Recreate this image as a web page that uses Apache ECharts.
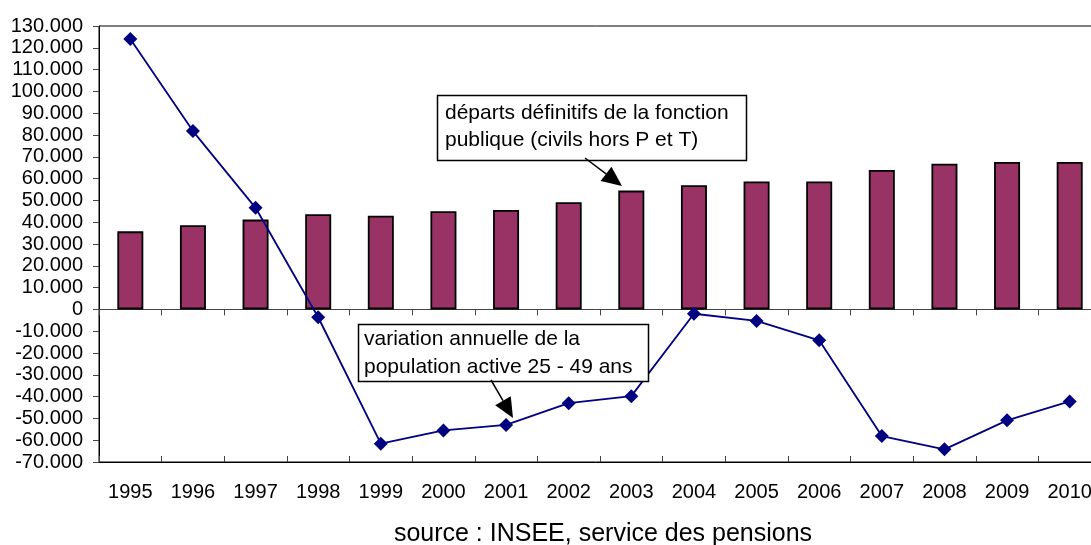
<!DOCTYPE html>
<html>
<head>
<meta charset="utf-8">
<script src="https://cdn.jsdelivr.net/npm/echarts@6/dist/echarts.min.js"></script>
<style>
  html, body { margin: 0; padding: 0; background: #fff; }
  #chart { width: 1091px; height: 545px; }
</style>
</head>
<body>
<div id="chart"></div>
<script>
// years on the category axis
var years = ['1995', '1996', '1997', '1998', '1999', '2000', '2001', '2002',
             '2003', '2004', '2005', '2006', '2007', '2008', '2009', '2010'];

// départs définitifs de la fonction publique (bars)
var departs = [35800, 38600, 41200, 43700, 43000, 45000, 45600, 49200,
               54500, 57000, 58700, 58700, 64000, 66800, 67600, 67600];

// variation annuelle de la population active 25 - 49 ans (line)
var variation = [124000, 81800, 46600, -3600, -61600, -55500, -53000, -43000,
                 -39800, -2000, -5300, -14200, -58100, -64200, -50900, -42200];

var FONT = '"Liberation Sans", Arial, sans-serif';

function fmtY(v) {
    if (v === 0) return '0';
    return (v / 1000) + '.000';
}

// arrow drawn as a line plus a filled triangle head
function arrow(x1, y1, x2, y2) {
    var dx = x2 - x1, dy = y2 - y1;
    var len = Math.sqrt(dx * dx + dy * dy);
    var ux = dx / len, uy = dy / len;
    var hl = 20, hw = 9;
    var bx = x2 - ux * hl, by = y2 - uy * hl;
    return [
        { type: 'line', shape: { x1: x1, y1: y1, x2: bx, y2: by },
          style: { stroke: '#000', lineWidth: 1.5 }, z: 100 },
        { type: 'polygon',
          shape: { points: [[x2, y2], [bx - uy * hw, by + ux * hw], [bx + uy * hw, by - ux * hw]] },
          style: { fill: '#000' }, z: 100 }
    ];
}

var option = {
    backgroundColor: '#fff',
    animation: false,
    grid: {
        left: 99,
        top: 26,
        right: -10,
        bottom: 83,
        show: true,
        borderColor: '#000',
        borderWidth: 1,
        containLabel: false,
        outerBoundsMode: 'none'
    },
    xAxis: [
        {
            type: 'category',
            data: years,
            position: 'bottom',
            axisLine: { onZero: true, lineStyle: { color: '#444', width: 1 } },
            axisTick: { show: true, inside: false, length: 6, lineStyle: { color: '#444' } },
            axisLabel: { show: false }
        },
        {
            type: 'category',
            data: years,
            position: 'bottom',
            axisLine: { show: false, onZero: true },
            axisTick: { show: true, inside: true, length: 6, lineStyle: { color: '#444' } },
            axisLabel: { show: false }
        },
        {
            type: 'category',
            data: years,
            position: 'bottom',
            axisLine: { show: true, onZero: false, lineStyle: { color: '#000' } },
            axisTick: { show: false },
            axisLabel: { show: true, margin: 20, fontSize: 20, color: '#000', fontFamily: FONT }
        }
    ],
    yAxis: {
        type: 'value',
        min: -70000,
        max: 130000,
        interval: 10000,
        splitLine: { show: false },
        axisLine: { show: true, lineStyle: { color: '#000' } },
        axisTick: { show: true, length: 6, lineStyle: { color: '#444' } },
        axisLabel: { formatter: fmtY, fontSize: 20, color: '#000', margin: 16, fontFamily: FONT }
    },
    series: [
        {
            name: 'départs définitifs',
            type: 'bar',
            data: departs,
            barWidth: 26,
            itemStyle: { color: '#993366', borderColor: '#000', borderWidth: 1.8 },
            z: 2
        },
        {
            name: 'variation annuelle',
            type: 'line',
            data: variation,
            symbol: 'diamond',
            symbolSize: 14,
            lineStyle: { color: '#000080', width: 1.8 },
            itemStyle: { color: '#000080' },
            z: 5
        }
    ],
    graphic: [
        // box 1
        { type: 'rect', shape: { x: 437.5, y: 95.5, width: 309, height: 65 },
          style: { fill: '#fff', stroke: '#000', lineWidth: 1.5 }, z: 90 },
        { type: 'text', x: 445, y: 100,
          style: { text: 'départs définitifs de la fonction\npublique (civils hors P et T)',
                   font: '21px ' + FONT, fill: '#000', lineHeight: 27 }, z: 95 },
        // box 2
        { type: 'rect', shape: { x: 358.5, y: 324.5, width: 290, height: 57 },
          style: { fill: '#fff', stroke: '#000', lineWidth: 1.5 }, z: 90 },
        { type: 'text', x: 364, y: 325,
          style: { text: 'variation annuelle de la\npopulation active 25 - 49 ans',
                   font: '21px ' + FONT, fill: '#000', lineHeight: 28 }, z: 95 },
        // source
        { type: 'text', x: 603, y: 534,
          style: { text: 'source : INSEE, service des pensions', font: '25px ' + FONT,
                   fill: '#000', align: 'center', verticalAlign: 'middle' } }
    ].concat(arrow(585, 158, 622, 186)).concat(arrow(491, 380, 513, 418))
};

var chart = echarts.init(document.getElementById('chart'));
chart.setOption(option);
</script>
</body>
</html>
